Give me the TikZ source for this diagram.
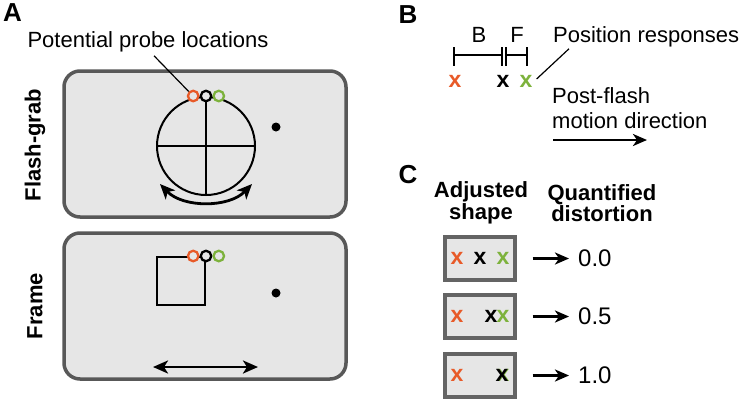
\documentclass[tikz,border=0pt]{standalone}
\usepackage{fontspec}
\setmainfont{Liberation Sans}
\usetikzlibrary{arrows.meta,positioning}
\definecolor{ProbeOrange}{RGB}{232,90,40}
\definecolor{ProbeGreen}{RGB}{125,178,60}
\definecolor{PanelFill}{RGB}{230,230,230}
\definecolor{PanelEdge}{RGB}{88,88,88}
\definecolor{BoxEdge}{RGB}{100,100,100}
\tikzset{
  panel/.style={draw=PanelEdge,line width=3.5pt,fill=PanelFill,rounded corners=16pt,minimum width=282pt,minimum height=146pt,inner sep=0pt},
  probe/.style={circle,draw=black,line width=2.3pt,fill=PanelFill,minimum size=10.5pt,inner sep=0pt},
  xmark/.style={font=\fontsize{23}{23}\selectfont\bfseries,inner sep=0pt},
  txt/.style={font=\fontsize{22}{25}\selectfont,inner sep=1pt},
  numtxt/.style={font=\fontsize{24}{24}\selectfont,inner sep=1pt},
  head/.style={font=\fontsize{22}{22}\selectfont\bfseries,inner sep=1pt,align=center},
  letter/.style={font=\fontsize{26}{26}\selectfont\bfseries,inner sep=0pt},
  stim/.style={line width=2pt},
  dbl/.style={{Stealth[length=15pt,width=13pt,inset=4pt]}-{Stealth[length=15pt,width=13pt,inset=4pt]},line width=2.8pt},
  resp/.style={-{Stealth[length=14pt,width=12pt,inset=4pt]},line width=2.6pt},
  shapebox/.style={draw=BoxEdge,line width=3.2pt,fill=PanelFill,minimum width=70pt,minimum height=43pt,inner sep=0pt},
  dist/.style={resp,shorten <=16pt,shorten >=8pt}
}
\begin{document}
\begin{tikzpicture}[x=1pt,y=-1pt]
\useasboundingbox (0,0) rectangle (739,400);
% A: stimulus panels
\node[letter] (lA) at (12.5,13) {A};
\node[panel] (fgpanel) at (205,144) {};
\node[panel] (frpanel) at (205,306) {};
\node[head,rotate=90] (fglab) at (35,145) {Flash-grab};
\node[head,rotate=90] (frlab) at (35,306) {Frame};
% flash-grab wheel
\node[circle,draw,stim,minimum size=98pt,inner sep=0pt] (wheel) at (206,146) {};
\draw[stim] (wheel.north) -- (wheel.south);
\draw[stim] (wheel.west) -- (wheel.east);
\node[probe] (fk) at (wheel.north) {};
\node[probe,draw=ProbeOrange,left=0pt of fk] (fo) {};
\node[probe,draw=ProbeGreen,right=0pt of fk] (fg) {};
\node[circle,fill=black,minimum size=9pt,inner sep=0pt] (fgfix) at (276,127) {};
\coordinate (rotl) at (160,184);
\coordinate (rotr) at (252,184);
\draw[dbl] (rotl) .. controls (183,208) and (229,208) .. (rotr);
\node[txt,anchor=base] (probetxt) at (148,47) {Potential probe locations};
\draw[line width=1.2pt] ([xshift=6pt,yshift=-3pt]probetxt.south) -- (fo.north west);
% frame square
\node[draw,stim,minimum size=48pt,inner sep=0pt] (sq) at (181,281) {};
\node[probe] (rk) at (sq.north east) {};
\node[probe,draw=ProbeOrange,left=0pt of rk] (ro) {};
\node[probe,draw=ProbeGreen,right=0pt of rk] (rg) {};
\node[circle,fill=black,minimum size=9pt,inner sep=0pt] (frfix) at (276,293) {};
\coordinate (shl) at (153,367);
\coordinate (shr) at (258,367);
\draw[dbl] (shl) -- (shr);
% B: responses
\node[letter] (lB) at (408,15) {B};
\node[xmark,text=ProbeOrange] (bo) at (455,81) {x};
\node[xmark] (bk) at (503,81) {x};
\node[xmark,text=ProbeGreen] (bg) at (526,81) {x};
\draw[stim] (454,47) -- (454,66) (454,55) -- (502,55) -- (502,47) -- (502,66);
\draw[stim] (506,47) -- (506,66) (506,55) -- (527,55) -- (527,47) -- (527,66);
\node[txt,anchor=base] (bt) at (479,42) {B};
\node[txt,anchor=base] (ft) at (517,42) {F};
\node[txt,anchor=base west] (resptxt) at (552,42) {Position responses};
\draw[line width=1.2pt] ([xshift=4pt,yshift=2pt]bg.east) -- ([xshift=17pt,yshift=-1pt]resptxt.south west);
\node[txt,anchor=west,align=left] (postflash) at (551,108) {Post-flash\\motion direction};
\coordinate (mo0) at (553,140);
\coordinate (mo1) at (647,140);
\draw[resp] (mo0) -- (mo1);
% C: quantified distortion
\node[letter] (lC) at (408,175) {C};
\node[head,font=\fontsize{22}{21.5}\selectfont\bfseries] (adj) at (481,203) {Adjusted\\shape};
\node[head,font=\fontsize{22}{21.5}\selectfont\bfseries] (quant) at (602,203) {Quantified\\distortion};
\foreach \i/\yy/\kx/\val in {1/258.5/480/0.0,2/316.5/491/0.5,3/375.5/502/1.0}{
  \node[shapebox] (box\i) at (480,\yy) {};
  \node[xmark,text=ProbeOrange] (co\i) at (457,\yy) {x};
  \node[xmark,text=ProbeGreen] (cg\i) at (503,\yy) {x};
  \node[xmark] (ck\i) at (\kx,\yy) {x};
  \node[numtxt,anchor=west] (val\i) at (577,\yy) {\val};
  \draw[dist] (box\i) -- (val\i);
}
\end{tikzpicture}
\end{document}
